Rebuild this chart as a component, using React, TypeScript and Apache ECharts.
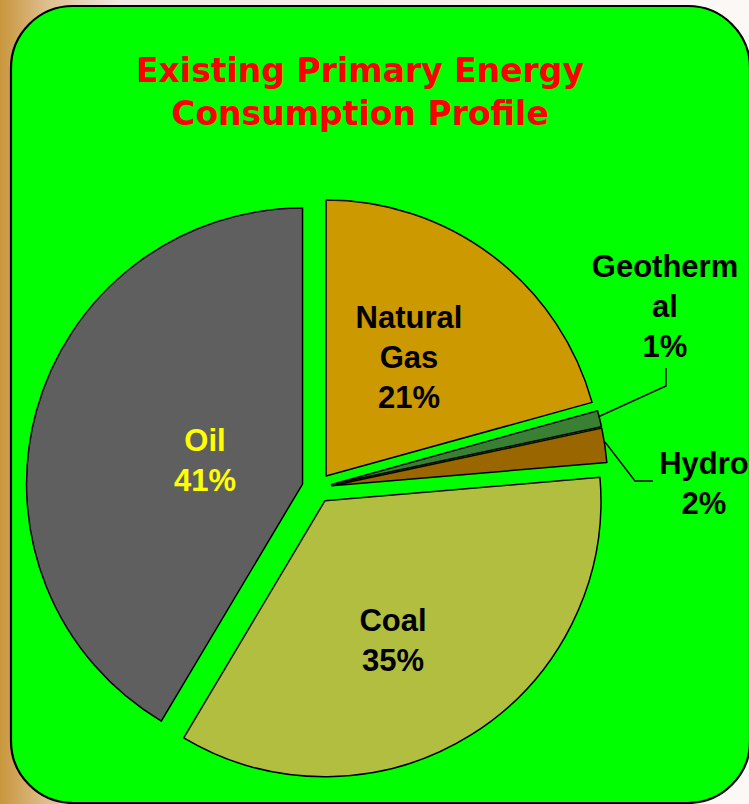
import React, { useEffect, useRef } from "react";
import * as echarts from "echarts";

const categories = ["Natural Gas", "Geothermal", "Hydro", "Coal", "Oil"];
const labelTexts = ["Natural\nGas", "Geotherm\nal", "Hydro", "Coal", "Oil"];
const shares = [20.7, 0.95, 2.0, 34.9, 41.45];
const sliceColors = ["#CC9900", "#3A8034", "#996600", "#B2BE3F", "#5F5F5F"];
const labelColors = ["#000000", "#000000", "#000000", "#000000", "#FFFF00"];
const titleText = "Existing Primary Energy\nConsumption Profile";

// label block centres (layout only)
const labelPos: number[][] = [
  [409, 357],
  [665, 306],
  [704, 483],
  [393, 640],
  [205, 460],
];
// leader lines for the small slices (layout only)
const guidePoints: (number[][] | null)[] = [
  null,
  [[599, 416.5], [666, 386], [666, 368]],
  [[605, 442], [635, 481], [653, 481]],
  null,
  null,
];

export default function App() {
  const ref = useRef<HTMLDivElement>(null);
  useEffect(() => {
    if (!ref.current) return;
    const chart = echarts.init(ref.current, null, { renderer: "svg" });
    const total = shares.reduce((a, b) => a + b, 0);
    const data = categories.map((name, i) => ({
      name,
      value: shares[i],
      selected: true,
      itemStyle: { color: sliceColors[i] },
    }));
    const labelGraphics: any[] = categories.map((_, i) => ({
      type: "text",
      z: 10,
      x: labelPos[i][0],
      y: labelPos[i][1],
      style: {
        text: `${labelTexts[i]}\n${Math.round((shares[i] / total) * 100)}%`,
        fill: labelColors[i],
        fontFamily: "Liberation Sans",
        fontWeight: "bold",
        fontSize: 31,
        lineHeight: 40,
        align: "center",
        verticalAlign: "middle",
      },
    }));
    const lineGraphics: any[] = guidePoints
      .filter((p) => p)
      .map((pts) => ({
        type: "polyline",
        z: 10,
        shape: { points: pts },
        style: { stroke: "#000000", lineWidth: 1.4, fill: null },
      }));
    chart.setOption({
      animation: false,
      backgroundColor: {
        type: "linear",
        x: 0,
        y: 0,
        x2: 1,
        y2: 0,
        colorStops: [
          { offset: 0, color: "#C8963C" },
          { offset: 0.06, color: "#DDBD8C" },
          { offset: 0.16, color: "#F2EAE4" },
          { offset: 1, color: "#FBF8F6" },
        ],
      },
      title: {
        text: titleText,
        left: 360,
        top: 49,
        padding: 0,
        textAlign: "center",
        textStyle: {
          fontFamily: "DejaVu Sans",
          fontWeight: "bold",
          fontSize: 33,
          lineHeight: 43,
          color: "#FF0000",
        },
      },
      graphic: [
        {
          type: "rect",
          z: -10,
          shape: { x: 11, y: 6, width: 739, height: 797, r: 62 },
          style: { fill: "#00FF00", stroke: "#000000", lineWidth: 2.2 },
        },
        ...lineGraphics,
        ...labelGraphics,
      ],
      series: [
        {
          type: "pie",
          z: 2,
          center: [317, 488],
          radius: 276,
          startAngle: 90,
          clockwise: true,
          selectedMode: "multiple",
          selectedOffset: 15,
          emphasis: { disabled: true },
          itemStyle: { borderColor: "#000000", borderWidth: 1.5 },
          select: { itemStyle: { borderColor: "#000000", borderWidth: 1.5 } },
          label: { show: false },
          labelLine: { show: false },
          data,
        },
      ],
    });
    return () => chart.dispose();
  }, []);
  return (
    <div
      ref={ref}
      style={{ position: "fixed", left: 0, top: 0, width: 749, height: 804 }}
    />
  );
}
